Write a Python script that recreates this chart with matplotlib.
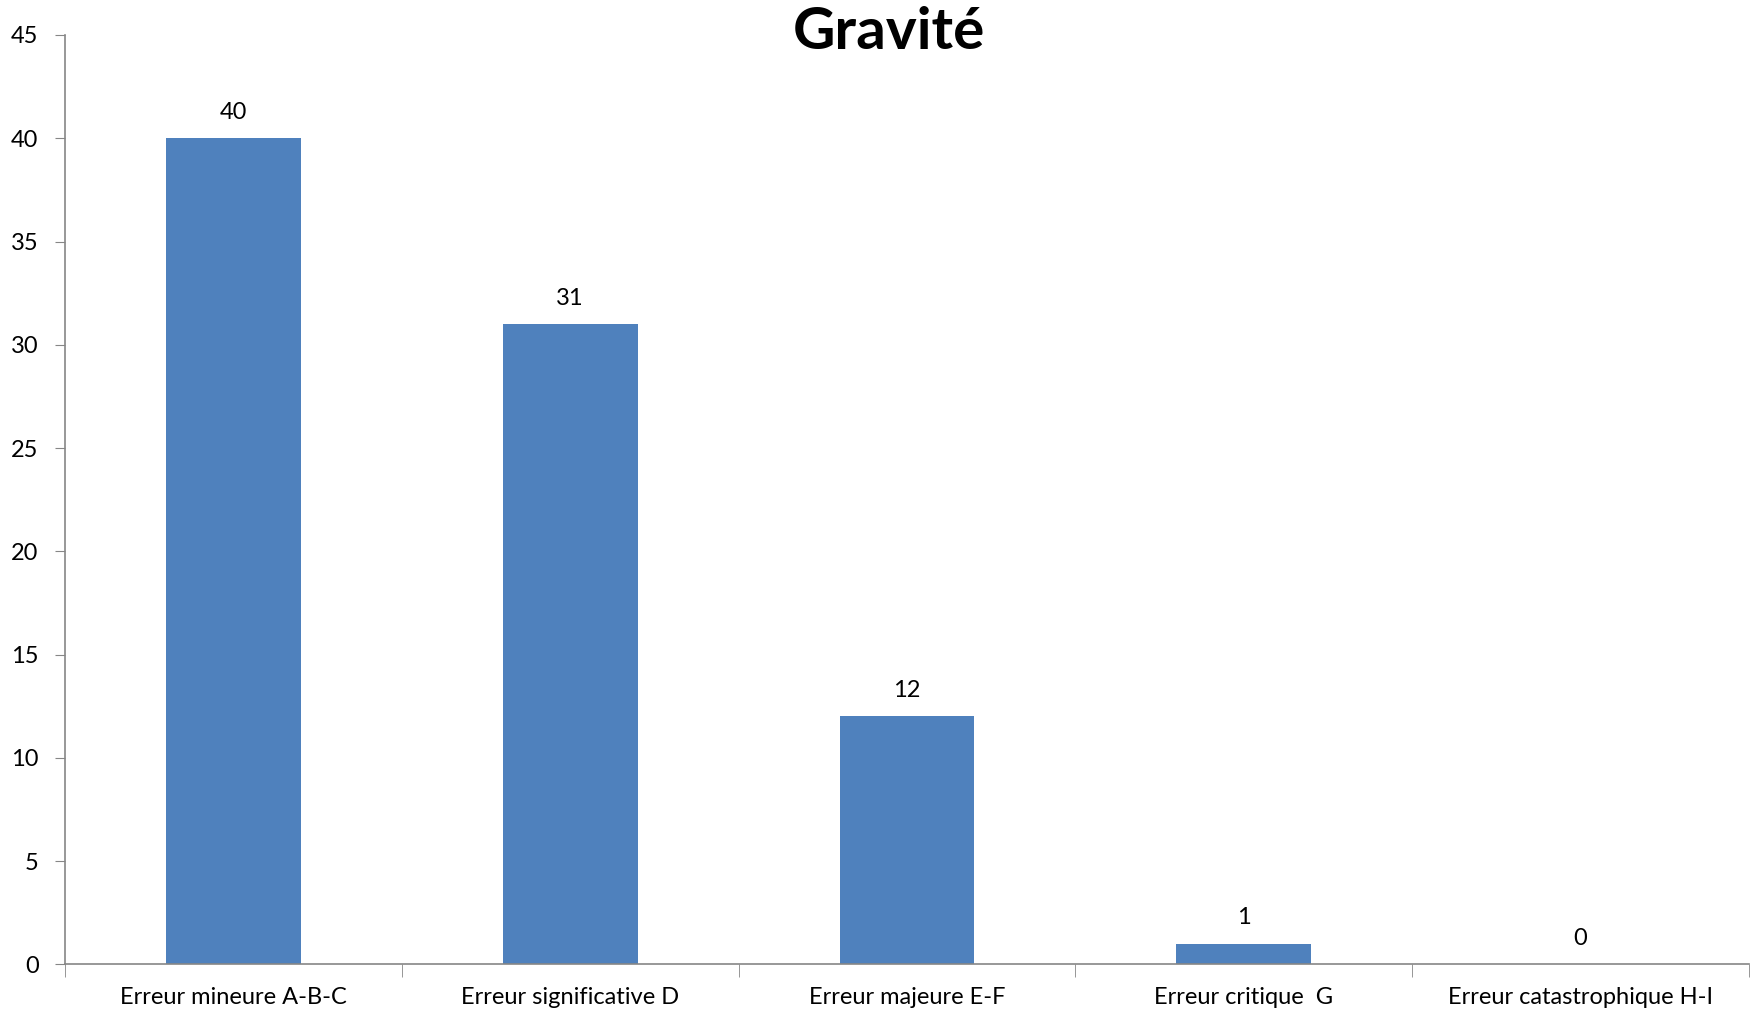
import matplotlib
matplotlib.use("Agg")
from matplotlib import pyplot as plt
import numpy as np

categories = ["Erreur mineure A-B-C", "Erreur significative D", "Erreur majeure E-F",
              "Erreur critique  G", "Erreur catastrophique H-I"]
values = [40, 31, 12, 1, 0]
yticks = [0, 5, 10, 15, 20, 25, 30, 35, 40, 45]

plt.rcParams['font.family'] = ['Lato', 'DejaVu Sans']

fig = plt.figure(figsize=(17.56, 10.14), dpi=100)
ax = fig.add_axes([0.037, 0.049, 0.959, 0.9165])

x = np.arange(len(categories))
ax.bar(x, values, width=0.4, color='#4F81BD')
for xi, v in zip(x, values):
    ax.text(xi, v + 0.75, str(v), ha='center', va='bottom', fontsize=17)

ax.set_xlim(-0.5, len(categories) - 0.5)
ax.set_ylim(0, 45)
ax.set_yticks(yticks)
ax.tick_params(axis='y', labelsize=17, length=7, color='#868686', pad=12)

ax.set_xticks(x)
ax.set_xticklabels(categories, fontsize=17)
ax.tick_params(axis='x', length=0, pad=16)
ax.set_xticks(np.arange(len(categories) + 1) - 0.5, minor=True)
ax.tick_params(axis='x', which='minor', length=9, color='#868686')

for s in ['top', 'right']:
    ax.spines[s].set_visible(False)
for s in ['left', 'bottom']:
    ax.spines[s].set_color('#868686')
    ax.spines[s].set_linewidth(1.2)

fig.text(0.506, 0.968, "Gravité", ha='center', va='center', fontsize=42, fontweight='bold')

fig.savefig("out.png", dpi=100)
